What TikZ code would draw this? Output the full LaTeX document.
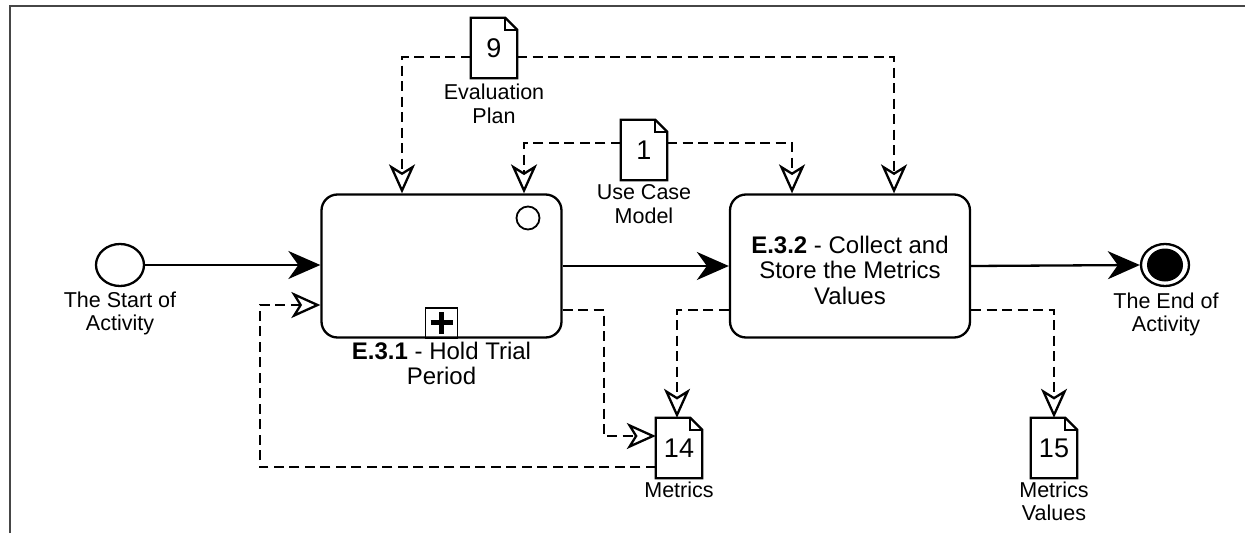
\documentclass[tikz,border=0pt]{standalone}
\usepackage{fontspec}
\setmainfont{Liberation Sans}
\usetikzlibrary{arrows.meta,shapes.geometric}
\definecolor{framegray}{RGB}{70,70,70}

% outline of a BPMN data object drawn around a node
\newcommand\docoutline[1]{%
  \draw[line width=2.3pt, line join=miter]
    (#1.south west) -- (#1.north west) -- ([xshift=-12pt]#1.north east)
    -- ([yshift=-12pt]#1.north east) -- (#1.south east) -- cycle;
  \draw[line width=1.5pt] ([xshift=-12pt]#1.north east) |- ([yshift=-12pt]#1.north east);}

\begin{document}
\begin{tikzpicture}[x=1pt,y=-1pt,
  lbl/.style={font=\fontsize{21.5}{23.5}\selectfont, align=center, inner sep=0pt},
  tasklbl/.style={font=\fontsize{24}{25.5}\selectfont, align=center, inner sep=0pt},
  task/.style={draw, line width=2.3pt, rounded corners=16pt, minimum width=240pt,
               minimum height=143pt, inner sep=0pt},
  dataobj/.style={minimum width=46pt, minimum height=60pt, inner sep=0pt,
                  font=\fontsize{27}{27}\selectfont},
  event/.style={ellipse, draw, line width=2.3pt, minimum width=48pt, minimum height=42pt, inner sep=0pt},
  seqflow/.style={line width=2.3pt, -{Stealth[length=32pt,width=28pt,inset=10pt]}},
  assoc/.style={line width=2.3pt, dash pattern=on 10pt off 5.5pt,
                -{Stealth[open,length=29pt,width=26pt,inset=8pt,line width=2.3pt]}},
]
\useasboundingbox (0,0) rectangle (1245,533);

% page frame
\draw[line width=2.2pt, framegray] (10,533) -- (10,6) -- (1245,6);

% events
\node[event] (start) at (120,265) {};
\node[lbl] (startlbl) at (120,313.5) {The Start of\\Activity};
\node[event] (endev) at (1165,265) {};
\node[ellipse, fill, minimum width=36pt, minimum height=33pt, inner sep=0pt] (endcore) at (endev) {};
\node[lbl] (endlbl) at (1166,314.5) {The End of\\Activity};

% tasks
\node[task] (t1) at (441.5,266) {};
\node[circle, draw, line width=1.8pt, minimum size=23pt, inner sep=0pt] (t1ev) at (528,218) {};
\node[draw, line width=1.8pt, minimum width=32pt, minimum height=30pt, inner sep=0pt,
      anchor=south] (t1sub) at (t1.south) {};
\draw[line width=5pt] ([xshift=-11pt]t1sub.center) -- ([xshift=11pt]t1sub.center);
\draw[line width=5pt] ([yshift=-11pt]t1sub.center) -- ([yshift=11pt]t1sub.center);
\node[tasklbl] (t1lbl) at (441.5,363.5) {\textbf{E.3.1} - Hold Trial\\Period};

\node[task] (t2) at (850,266) {};
\node[tasklbl] (t2lbl) at (850,270) {\textbf{E.3.2} - Collect and\\Store the Metrics\\Values};

% data objects
\node[dataobj] (d9) at (494,48) {9};
\docoutline{d9}
\node[lbl] (d9lbl) at (494,104) {Evaluation\\Plan};

\node[dataobj] (d1) at (644,150) {1};
\docoutline{d1}
\node[lbl] (d1lbl) at (644,204) {Use Case\\Model};

\node[dataobj] (d14) at (679,448) {14};
\docoutline{d14}
\node[lbl] (d14lbl) at (679,490) {Metrics};

\node[dataobj] (d15) at (1054,448) {15};
\docoutline{d15}
\node[lbl] (d15lbl) at (1054,501.5) {Metrics\\Values};

% sequence flows
\draw[seqflow] (start.east) -- (start.east -| t1.west);
\draw[seqflow] (t1.east) -- (t2.west);
\draw[seqflow] (t2.east) -- (endev.west);

% data associations
\draw[assoc] ([yshift=-9pt]d9.west) -| ([xshift=-39.5pt]t1.north);
\draw[assoc] ([yshift=-9pt]d9.east) -| ([xshift=44pt]t2.north);
\draw[assoc] ([yshift=7pt]d1.west) -| ([xshift=82.5pt]t1.north);
\draw[assoc] ([yshift=7pt]d1.east) -| ([xshift=-58pt]t2.north);
\draw[assoc] ([yshift=-44pt]t1.east) -- ++(41,0) |- ([yshift=12pt]d14.west);
\draw[assoc] ([yshift=-44pt]t2.west) -| ([xshift=-2pt]d14.north);
\draw[assoc] ([yshift=-19pt]d14.west) -- ++(-396,0) |- ([yshift=-39pt]t1.west);
\draw[assoc] ([yshift=-44pt]t2.east) -| (d15.north);
\end{tikzpicture}
\end{document}
